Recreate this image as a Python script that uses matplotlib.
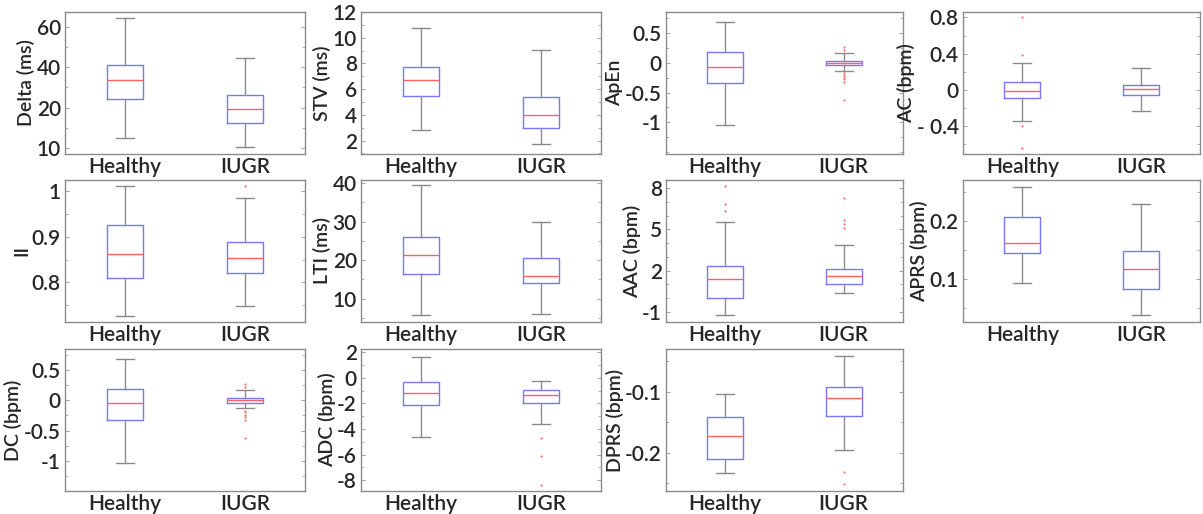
import matplotlib
matplotlib.use('Agg')
from matplotlib import pyplot as plt
from matplotlib.ticker import FixedLocator, MultipleLocator

plt.rcParams['font.family'] = ['Lato', 'DejaVu Sans']
plt.rcParams['axes.unicode_minus'] = False

groups = ['Healthy', 'IUGR']

# box stats: [whisker low, q1, median, q3, whisker high]
delta_healthy = [5.0, 24.5, 33.7, 41.2, 64.5]
delta_iugr = [0.3, 12.4, 19.2, 26.1, 44.6]

stv_healthy = [2.81, 5.49, 6.7, 7.75, 10.74]
stv_iugr = [1.69, 2.97, 3.97, 5.41, 9.06]

apen_healthy = [-1.05, -0.34, -0.067, 0.185, 0.685]
apen_iugr = [-0.14, -0.044, 0.0, 0.034, 0.168]
apen_iugr_out = [0.27, 0.22, -0.17, -0.2, -0.24, -0.28, -0.32, -0.62]

ac_healthy = [-0.34, -0.096, -0.01, 0.086, 0.294]
ac_healthy_out = [0.8, 0.39, -0.4, -0.64]
ac_iugr = [-0.24, -0.063, 0.005, 0.055, 0.24]

ii_healthy = [0.728, 0.809, 0.863, 0.925, 1.009]
ii_iugr = [0.748, 0.82, 0.854, 0.888, 0.983]
ii_iugr_out = [1.01]

lti_healthy = [5.6, 16.5, 21.4, 25.9, 39.6]
lti_iugr = [5.9, 14.0, 15.9, 20.5, 30.0]

aac_healthy = [-1.24, 0.0, 1.39, 2.32, 5.56]
aac_healthy_out = [8.17, 6.83, 6.34]
aac_iugr = [0.37, 1.0, 1.62, 2.1, 3.84]
aac_iugr_out = [7.27, 5.66, 5.37, 5.13]

aprs_healthy = [0.0925, 0.144, 0.162, 0.207, 0.258]
aprs_iugr = [0.037, 0.083, 0.116, 0.147, 0.229]

dc_healthy = [-1.03, -0.33, -0.05, 0.19, 0.68]
dc_iugr = [-0.13, -0.04, 0.0, 0.04, 0.17]
dc_iugr_out = [0.27, 0.22, -0.17, -0.2, -0.24, -0.28, -0.32, -0.62]

adc_healthy = [-4.58, -2.08, -1.21, -0.32, 1.6]
adc_iugr = [-3.58, -1.95, -1.32, -0.92, -0.24]
adc_iugr_out = [-4.71, -6.08, -8.4]

dprs_healthy = [-0.234, -0.211, -0.172, -0.141, -0.103]
dprs_iugr = [-0.196, -0.140, -0.11, -0.092, -0.0405]
dprs_iugr_out = [-0.232, -0.251]

# label, healthy, iugr, healthy outliers, iugr outliers, ylim, major ticks, tick labels, minor step
panels = [
    ('Delta (ms)', delta_healthy, delta_iugr, [], [], (-3, 67.4),
     [0, 20, 40, 60], ['10', '20', '40', '60'], 10),
    ('STV (ms)', stv_healthy, stv_iugr, [], [], (0.95, 12),
     [2, 4, 6, 8, 10, 12], None, 1),
    ('ApEn', apen_healthy, apen_iugr, [], apen_iugr_out, (-1.53, 0.85),
     [-1, -0.5, 0, 0.5], ['-1', '-0.5', '0', '0.5'], 0.25),
    ('AC (bpm)', ac_healthy, ac_iugr, ac_healthy_out, [], (-0.71, 0.86),
     [-0.4, 0, 0.4, 0.8], ['- 0.4', '0', '0.4', '0.8'], 0.2),
    ('II', ii_healthy, ii_iugr, [], ii_iugr_out, (0.714, 1.023),
     [0.8, 0.9, 1.0], ['0.8', '0.9', '1'], 0.05),
    ('LTI (ms)', lti_healthy, lti_iugr, [], [], (3.9, 40.8),
     [10, 20, 30, 40], None, 5),
    ('AAC (bpm)', aac_healthy, aac_iugr, aac_healthy_out, aac_iugr_out, (-1.73, 8.6),
     [-1, 2, 5, 8], None, 1),
    ('APRS (bpm)', aprs_healthy, aprs_iugr, [], [], (0.0256, 0.27),
     [0.1, 0.2], None, 0.05),
    ('DC (bpm)', dc_healthy, dc_iugr, [], dc_iugr_out, (-1.5, 0.85),
     [-1, -0.5, 0, 0.5], ['-1', '-0.5', '0', '0.5'], 0.25),
    ('ADC (bpm)', adc_healthy, adc_iugr, [], adc_iugr_out, (-8.84, 2.26),
     [-8, -6, -4, -2, 0, 2], None, 1),
    ('DPRS (bpm)', dprs_healthy, dprs_iugr, [], dprs_iugr_out, (-0.263, -0.0295),
     [-0.2, -0.1], ['-0.2', '-0.1'], 0.05),
]

W, H = 1203, 514
col_left = [65, 361, 666, 963]
col_width = [240, 240, 237, 237]
row_top = [12, 180, 349]
ax_height = 142

gray = '#8c8c8c'
text_color = '#262626'
fig = plt.figure(figsize=(W / 100, H / 100), dpi=100)

for i, (label, sh, si, oh, oi, ylim, ticks, ticklabels, minor) in enumerate(panels):
    r, c = divmod(i, 4)
    ax = fig.add_axes([col_left[c] / W, 1 - (row_top[r] + ax_height) / H,
                       col_width[c] / W, ax_height / H])
    stats = []
    for name, s, f in zip(groups, [sh, si], [oh, oi]):
        lo, q1, med, q3, hi = s
        stats.append(dict(label=name, whislo=lo, q1=q1, med=med, q3=q3,
                          whishi=hi, fliers=f))
    ax.bxp(stats, positions=[1, 2], widths=0.3, showfliers=True,
           boxprops=dict(color='#7878ff', lw=1),
           medianprops=dict(color='#ff6060', lw=1),
           whiskerprops=dict(color=gray, lw=1),
           capprops=dict(color=gray, lw=1),
           flierprops=dict(marker='o', markersize=1.6, markerfacecolor='#ff7070',
                           markeredgecolor='none'))
    ax.set_xlim(0.5, 2.5)
    ax.set_ylim(*ylim)
    ax.yaxis.set_major_locator(FixedLocator(ticks))
    if ticklabels is None:
        ticklabels = ['%g' % t for t in ticks]
    ax.set_yticklabels(ticklabels, fontsize=15, fontweight='semibold', color=text_color)
    for t in ax.get_xticklabels():
        t.set_fontsize(15)
        t.set_fontweight('semibold')
        t.set_color(text_color)
    ax.yaxis.set_minor_locator(MultipleLocator(minor))
    ax.tick_params(axis='y', which='both', direction='in', right=True,
                   color='#a8a8a8', pad=3)
    ax.tick_params(axis='y', which='major', length=3)
    ax.tick_params(axis='y', which='minor', length=2)
    ax.tick_params(axis='x', length=0, pad=2)
    for sp in ax.spines.values():
        sp.set_color(gray)
        sp.set_linewidth(1)
    ax.set_ylabel(label, fontsize=14, fontweight='semibold', color=text_color, labelpad=1)

fig.savefig('out.png', dpi=100)
